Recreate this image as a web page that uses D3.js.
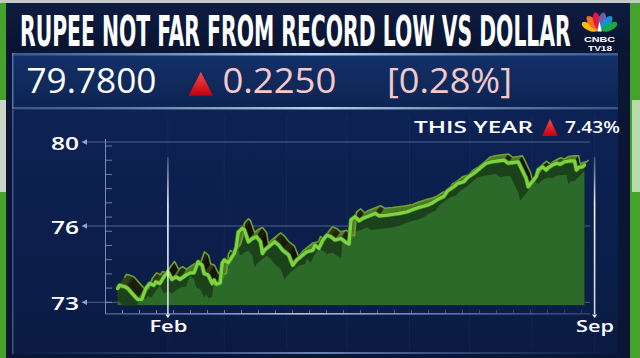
<!DOCTYPE html>
<html><head><meta charset="utf-8">
<script src="https://cdn.jsdelivr.net/npm/d3@7"></script>
<style>
html,body{margin:0;padding:0;background:#0a1634;overflow:hidden}
svg{display:block}
</style></head><body>
<svg id="c" width="640" height="358"></svg>
<script>
// ---------- data ----------
const title = "RUPEE NOT FAR FROM RECORD LOW VS DOLLAR";
const lastPrice = "79.7800";
const change = "0.2250";
const changePct = "[0.28%]";
const ytdLabel = "THIS YEAR";
const ytdChange = "7.43%";
const yTickValues = [73, 76, 80];
const xTickDates = ["2022-02-01", "2022-09-01"];
const xTickLabels = ["Feb", "Sep"];
// day of year 2022 (0 = Jan 1)
const dayOfYear = [6,7,10,11,14,16,18,20,22,24,
  25,27,29,31,33,35,37,40,42,44,
  46,48,49,51,53,54,55,57,58,59,
  61,64,65,66,68,69,71,73,75,77,
  78,79,82,84,86,88,91,93,95,98,
  100,103,104,106,108,110,112,114,117,119,
  121,122,124,126,128,132,134,136,140,143,
  146,150,153,156,157,160,162,165,168,170,
  173,175,178,180,183,185,189,192,195,198,
  200,203,205,207,209,210,212,214,215,217,
  219,220,222,224,226,228,231,233,234,235,
  237,238];
const usdInr = [73.54,73.67,73.60,73.55,73.28,73.11,73.11,73.54,73.74,73.67,
  73.80,73.74,74.00,74.20,73.90,74.00,73.90,74.07,74.16,74.16,
  74.59,74.46,74.13,74.07,73.74,73.87,73.71,73.76,74.53,74.66,
  74.55,74.92,75.18,75.76,75.91,75.84,75.38,75.51,75.58,75.38,
  74.92,75.05,75.25,75.38,75.25,75.05,74.86,74.46,74.66,74.86,
  74.99,75.05,75.25,75.12,75.45,75.64,75.58,75.45,75.51,75.38,
  75.29,76.29,76.44,76.25,76.37,76.52,76.60,76.48,76.52,76.56,
  76.60,76.68,76.80,76.89,76.92,77.00,77.08,77.27,77.40,77.68,
  77.87,78.03,78.11,78.32,78.51,78.67,78.99,79.06,79.10,79.14,
  78.99,79.03,79.06,78.67,78.27,77.87,78.11,78.35,78.67,78.82,
  78.67,78.78,78.90,78.99,78.94,79.06,79.10,79.10,78.67,78.78,
  78.82,78.90];

// ---------- setup ----------
const svg = d3.select("#c");
const defs = svg.append("defs");
function vgrad(id, stops){
  const g = defs.append("linearGradient").attr("id", id).attr("x1",0).attr("y1",0).attr("x2",0).attr("y2",1);
  stops.forEach(s => g.append("stop").attr("offset", s[0]).attr("stop-color", s[1]).attr("stop-opacity", s[2] ?? 1));
}
function hgrad(id, stops){
  const g = defs.append("linearGradient").attr("id", id).attr("x1",0).attr("y1",0).attr("x2",1).attr("y2",0);
  stops.forEach(s => g.append("stop").attr("offset", s[0]).attr("stop-color", s[1]).attr("stop-opacity", s[2] ?? 1));
}
vgrad("titleG", [[0,"#0e1c42"],[1,"#091430"]]);
vgrad("valueG", [[0,"#13306a"],[0.5,"#102a5c"],[1,"#0d2452"]]);
vgrad("chartG", [[0,"#0d2254"],[0.8,"#0b1d48"],[1,"#0a1a40"]]);
vgrad("redTri", [[0,"#ff4a4a"],[1,"#c0000e"]]);
hgrad("borderG", [[0,"#5e86c0",0.5],[0.5,"#b8d2f0",1],[1,"#5e86c0",0.5]]);
hgrad("axisG", [[0,"#6f8fc6",0.5],[0.4,"#c8d8f0",0.9],[1,"#6f8fc6",0.3]]);
hgrad("glowG", [[0,"#4a6fb0",0],[0.5,"#7fa0d8",0.8],[1,"#4a6fb0",0]]);
vgrad("vlineG", [[0,"#ffffff",0.2],[0.3,"#ffffff",0.95],[1,"#ffffff",0.8]]);

// background & frame
svg.append("rect").attr("width",640).attr("height",358).attr("fill","#0a1634");
svg.append("rect").attr("x",0).attr("y",0).attr("width",13).attr("height",358).attr("fill","#45a22b");
svg.append("rect").attr("x",629).attr("y",0).attr("width",11).attr("height",358).attr("fill","#45a22b");
svg.append("rect").attr("x",0).attr("y",100).attr("width",9).attr("height",92).attr("fill","#cdd5cb");
svg.append("rect").attr("x",632).attr("y",100).attr("width",8).attr("height",92).attr("fill","#b9d8ab");
svg.append("rect").attr("x",0).attr("y",0).attr("width",640).attr("height",3).attr("fill","#c3cbc4");
svg.append("rect").attr("x",6).attr("y",3).attr("width",624).attr("height",355).attr("fill","#0a1634");

// title bar
svg.append("rect").attr("x",6).attr("y",3).attr("width",624).attr("height",47).attr("fill","url(#titleG)");
const tt = svg.append("text").text(title)
  .attr("x",0).attr("y",0)
  .attr("font-family","'Liberation Sans Narrow','DejaVu Sans Condensed','Roboto Condensed','Liberation Sans',sans-serif")
  .attr("font-stretch","condensed")
  .attr("font-weight","bold").attr("font-size",43)
  .attr("fill","#ffffff");
const natW = tt.node().getComputedTextLength();
tt.attr("transform", `translate(20,46) scale(${551/natW},1)`);

// logo
const logo = svg.append("g").attr("transform","translate(599.5,31.5)");
const featherColors = ["#fdb913","#f37021","#e5173f","#6d5ea8","#1590d2","#19a84a"];
featherColors.forEach((c,i) => {
  const ang = -65 + i*26;
  logo.append("ellipse").attr("cx",0).attr("cy",-11).attr("rx",3.8).attr("ry",8.5)
    .attr("transform",`rotate(${ang})`).attr("fill",c);
});
logo.append("path").attr("d","M-2.3,0 L0,-10 L2.3,0 Z").attr("fill","#ffffff");
svg.append("text").text("CNBC").attr("x",599.5).attr("y",41.6).attr("text-anchor","middle")
  .attr("font-family","'Liberation Sans',Arial,sans-serif").attr("font-weight","bold").attr("font-size",8)
  .attr("textLength",31).attr("lengthAdjust","spacingAndGlyphs").attr("fill","#fff");
svg.append("text").text("TV18").attr("x",600).attr("y",51.3).attr("text-anchor","middle")
  .attr("font-family","'Liberation Sans',Arial,sans-serif").attr("font-weight","bold").attr("font-size",8)
  .attr("textLength",24).attr("lengthAdjust","spacingAndGlyphs").attr("fill","#fff");

// value panel
svg.append("rect").attr("x",12).attr("y",53).attr("width",606).attr("height",56).attr("fill","url(#valueG)");
svg.append("rect").attr("x",12).attr("y",53).attr("width",606).attr("height",2.5).attr("fill","url(#borderG)");
svg.append("rect").attr("x",12).attr("y",107).attr("width",606).attr("height",2.5).attr("fill","url(#borderG)");
svg.append("rect").attr("x",12).attr("y",53).attr("width",1.5).attr("height",56).attr("fill","#6f93c8").attr("opacity",0.7);

const numFont = "'Open Sans','Lato','DejaVu Sans',sans-serif";
svg.append("text").text(lastPrice).attr("x",26.5).attr("y",93).attr("font-family",numFont)
  .attr("font-size",35).attr("textLength",130).attr("lengthAdjust","spacingAndGlyphs").attr("fill","#ffffff");
svg.append("path").attr("d","M188.6,95.7 L213,95.7 L200.8,71.7 Z").attr("fill","url(#redTri)");
svg.append("text").text(change).attr("x",222.4).attr("y",93).attr("font-family",numFont)
  .attr("font-size",35).attr("textLength",114).attr("lengthAdjust","spacingAndGlyphs").attr("fill","#f5c9cb");
svg.append("text").text(changePct).attr("x",387).attr("y",93).attr("font-family",numFont)
  .attr("font-size",35).attr("textLength",125).attr("lengthAdjust","spacingAndGlyphs").attr("fill","#f2c9cb");

// chart panel
svg.append("rect").attr("x",12).attr("y",110).attr("width",606).attr("height",244).attr("fill","url(#chartG)");
svg.append("rect").attr("x",12).attr("y",352).attr("width",606).attr("height",2).attr("fill","url(#glowG)");
svg.append("rect").attr("x",12).attr("y",110).attr("width",1.5).attr("height",244).attr("fill","#6f93c8").attr("opacity",0.5);

svg.append("text").text(ytdLabel).attr("x",414).attr("y",133.3).attr("font-family",numFont)
  .attr("font-weight",600).attr("font-size",16).attr("textLength",119).attr("lengthAdjust","spacingAndGlyphs").attr("fill","#ffffff");
svg.append("path").attr("d","M542,136 L558,136 L550,119 Z").attr("fill","url(#redTri)");
svg.append("text").text(ytdChange).attr("x",565).attr("y",133.3).attr("font-family",numFont)
  .attr("font-weight",600).attr("font-size",16).attr("textLength",55).attr("lengthAdjust","spacingAndGlyphs").attr("fill","#ffffff");

// ---------- scales ----------
const parse = d3.timeParse("%Y-%m-%d");
const dates = dayOfYear.map(d => d3.timeDay.offset(new Date(2022,0,1), d));
const x = d3.scaleTime().domain([new Date(2022,0,1), new Date(2022,8,1)]).range([105.5, 594.6]);
const y = d3.scaleLinear().domain([73,76,80]).range([302.3,226,142]);
const xRight = 590;

const g = svg.append("g");

// faint vertical background grid
const months = d3.timeMonth.range(new Date(2022,0,15), new Date(2022,8,2));
g.selectAll(".vg").data(months).join("line")
  .attr("x1",d=>x(d)).attr("x2",d=>x(d)).attr("y1",115).attr("y2",350)
  .attr("stroke","#3a5a90").attr("stroke-opacity",0.15);

// horizontal gridlines with arrows
g.selectAll(".hg").data(yTickValues).join("line")
  .attr("x1",87).attr("x2",xRight).attr("y1",d=>y(d)).attr("y2",d=>y(d))
  .attr("stroke","#9bb4dc").attr("stroke-opacity",0.45).attr("stroke-width",1);
g.selectAll(".ar").data(yTickValues).join("path")
  .attr("d",d=>`M81.5,${y(d)} L87,${y(d)-2.8} L87,${y(d)+2.8} Z`).attr("fill","#8fa3c6");

// y axis line and minor ticks
const yMinor = d3.scaleLinear().domain([0,11]).range([y(73), y(80)+4]);
g.append("line").attr("x1",105.5).attr("x2",105.5).attr("y1",y(80)-3).attr("y2",314)
  .attr("stroke","#8ea6cf").attr("stroke-opacity",0.8);
g.selectAll(".ymt").data(d3.range(0,12)).join("line")
  .attr("x1",105.5).attr("x2",112).attr("y1",d=>yMinor(d)).attr("y2",d=>yMinor(d))
  .attr("stroke","#8ea6cf").attr("stroke-opacity",0.7);

// y axis labels
const yAxis = d3.axisLeft(y).tickValues(yTickValues).tickSize(0).tickPadding(8).tickFormat(d3.format("d"));
const yg = svg.append("g").attr("transform","translate(87,1.5)").call(yAxis);
yg.select(".domain").remove();
yg.selectAll("text").attr("font-family",numFont).attr("font-weight",600).attr("font-size",18.5)
  .attr("fill","#ffffff").attr("textLength",28).attr("lengthAdjust","spacingAndGlyphs");

// x axis line and minor ticks
const xMinor = d3.scaleLinear().domain([0,29]).range([x(new Date(2022,0,1)), x(new Date(2022,0,1)) + 29*17]);
g.append("rect").attr("x",105.5).attr("y",313).attr("width",xRight-105.5).attr("height",1.6).attr("fill","url(#axisG)");
g.selectAll(".xmt").data(d3.range(1,29)).join("line")
  .attr("x1",d=>xMinor(d)).attr("x2",d=>xMinor(d)).attr("y1",310).attr("y2",313)
  .attr("stroke","#a9bfe2").attr("stroke-opacity",d=> 0.7 - d*0.018);

// ---------- series ----------
const pts = dates.map((d,i) => [x(d), y(usdInr[i])]);
const base = y(73) + 3;
const areaGen = d3.area().x(p=>p[0]).y0(base).y1(p=>p[1]);
const lineGen = d3.line().x(p=>p[0]).y(p=>p[1]);

defs.append("clipPath").attr("id","areaClip").append("path").attr("d", areaGen(pts));

// dark under-shadow (whole area)
g.append("path").attr("d", areaGen(pts)).attr("fill","#1c421b");
// medium area from shifted line, clipped to main area
const shOff = [-8, 14];
const shPts = pts.map(p => [p[0]+shOff[0], p[1]+shOff[1]]);
shPts.push([pts[pts.length-1][0], pts[pts.length-1][1]+6]);
g.append("path").attr("d", areaGen(shPts)).attr("fill","#2c6a29").attr("clip-path","url(#areaClip)");

// 3D ribbon behind line (depth shrinks toward the right, perspective)
const x0 = pts[0][0], x1e = pts[pts.length-1][0];
const offAt = px => {
  const k = (px - x0) / (x1e - x0);
  return [7 - 3*k, -11 + 6*k];
};
const rib = g.append("g");
for (let i = 0; i < pts.length - 1; i++){
  const [xa,ya] = pts[i], [xb,yb] = pts[i+1];
  const oa = offAt(xa), ob = offAt(xb);
  const len = Math.hypot(xb-xa, yb-ya) || 1;
  const t = Math.max(0, (yb-ya)/len);
  const col = d3.interpolateRgb("#4f7c25", "#140c07")(Math.pow(t, 0.55));
  rib.append("path")
    .attr("d", `M${xa},${ya}L${xb},${yb}L${xb+ob[0]},${yb+ob[1]}L${xa+oa[0]},${ya+oa[1]}Z`)
    .attr("fill", col).attr("stroke", col).attr("stroke-width", 0.5);
}
g.append("path").attr("d", lineGen(pts.map(p => { const o = offAt(p[0]); return [p[0]+o[0], p[1]+o[1]]; })))
  .attr("fill","none").attr("stroke","#6c9e34").attr("stroke-width",1.6).attr("stroke-linejoin","round");

// main line
g.append("path").attr("d", lineGen(pts)).attr("fill","none")
  .attr("stroke","#3f7d20").attr("stroke-width",4.6).attr("stroke-linejoin","round");
g.append("path").attr("d", lineGen(pts)).attr("fill","none")
  .attr("stroke","#7ed340").attr("stroke-width",3.2).attr("stroke-linejoin","round").attr("stroke-linecap","round");

// vertical month markers
const xt = xTickDates.map(s => parse(s));
g.selectAll(".vm").data(xt).join("rect")
  .attr("x",d=>x(d)-0.8).attr("y",157).attr("width",1.6).attr("height",157).attr("fill","url(#vlineG)");
g.selectAll(".vt").data(xt).join("path")
  .attr("d",d=>`M${x(d)-2.5},314.5 L${x(d)+2.5},314.5 L${x(d)},318 Z`).attr("fill","#e8eef8");

// x axis labels
const xAxis = d3.axisBottom(x).tickValues(xt).tickSize(0).tickPadding(6)
  .tickFormat((d,i) => xTickLabels[i]);
const xg = svg.append("g").attr("transform","translate(0,314)").call(xAxis);
xg.select(".domain").remove();
xg.selectAll("text").attr("font-family",numFont).attr("font-weight",600).attr("font-size",16.5)
  .attr("fill","#ffffff").attr("textLength",38).attr("lengthAdjust","spacingAndGlyphs");
</script>
</body></html>
